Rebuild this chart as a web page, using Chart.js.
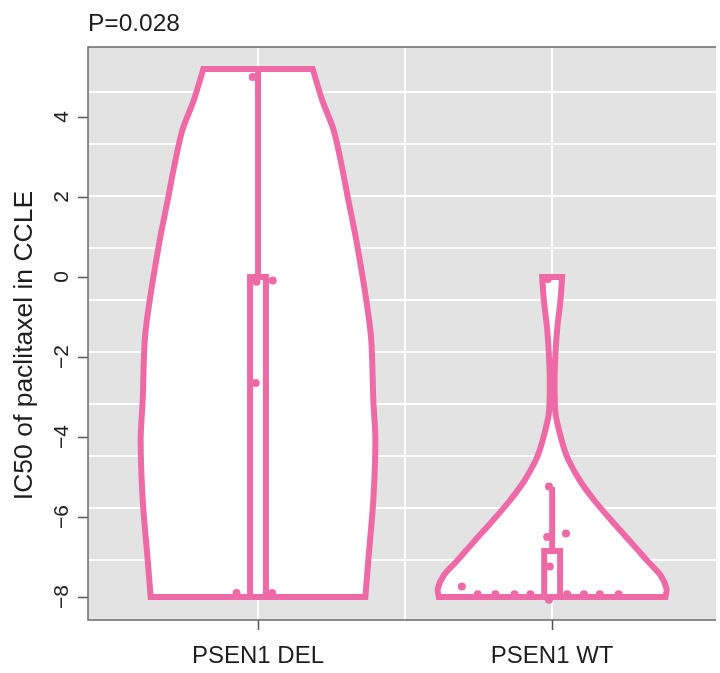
<!DOCTYPE html>
<html>
<head>
<meta charset="utf-8">
<script src="https://cdn.jsdelivr.net/npm/chart.js@4/dist/chart.umd.min.js"></script>
<style>
  html, body { margin: 0; padding: 0; background: #ffffff; overflow: hidden; }
  #wrap { width: 720px; height: 673px; }
</style>
</head>
<body>
<div id="wrap"><canvas id="c" width="720" height="673"></canvas></div>
<script>
// ---- data ----
const categories = ['PSEN1 DEL', 'PSEN1 WT'];
const yTickValues = [-8, -6, -4, -2, 0, 2, 4];
const pLabel = 'P=0.028';
const yTitle = 'IC50 of paclitaxel in CCLE';

// violin outlines: density half-width (category units) at each IC50 level
const delLevels     = [5.2, 4.425, 3.675, 2.8, 1.925, 0.925, -0.575, -1.575, -3.075, -4.075, -5.575, -7.075, -8.0];
const delHalfWidths = [0.186, 0.218, 0.257, 0.284, 0.307, 0.334, 0.368, 0.385, 0.392, 0.399, 0.392, 0.375, 0.365];
const wtLevels      = [0, -0.6, -1.3, -2.1, -2.6, -3.1, -3.45, -3.85, -4.3, -4.6, -5.1, -5.6, -6.1, -6.6, -7.1, -7.45, -7.8, -8.0];
const wtHalfWidths  = [0.034, 0.028, 0.017, 0.010, 0.008, 0.009, 0.012, 0.024, 0.041, 0.057, 0.095, 0.145, 0.203, 0.264, 0.324, 0.368, 0.389, 0.385];

// box plot summaries per group (DEL, WT)
const boxQ1        = [-8, -8];
const boxMedian    = [-8, -8];
const boxQ3        = [0, -6.85];
const whiskerHigh  = [5.2, -5.25];

// individual cell lines (value + horizontal jitter)
const delValues = [5.0, -0.09, -0.12, -2.65, -7.9, -7.9];
const delJitter = [-0.018, 0.05, -0.005, -0.008, -0.073, 0.048];
const wtValues  = [-0.05, -5.24, -6.41, -6.5, -7.24, -7.74, -7.93, -7.93, -7.93, -7.93, -8.07, -7.93, -7.93, -7.93, -7.93];
const wtJitter  = [-0.015, -0.011, 0.047, -0.017, -0.008, -0.307, -0.253, -0.193, -0.128, -0.074, -0.011, 0.051, 0.108, 0.162, 0.226];

// ---- styling ----
const PINK = '#EE6AA7';
const FONT = '"Liberation Sans", Arial, Helvetica, sans-serif';
const TEXT = '#1e1e1e';
const BOX_HALF = 0.027;

function fmtTick(v) { return v < 0 ? '\u2212' + Math.abs(v) : String(v); }

// closed outline starting/ending mid top edge; the trimmed ends' corner
// points are doubled so the spline keeps them sharp
function violinOutline(center, levels, widths) {
  const n = levels.length;
  const side = sign => levels.map((l, i) => ({ x: center + sign * widths[i], y: l }));
  const sharpen = pts => [pts[0], ...pts, pts[n - 1]];
  const left = sharpen(side(-1));
  const right = sharpen(side(1)).reverse();
  const topMid = { x: center, y: levels[0] };
  return [topMid, ...left, ...right, topMid];
}
function boxOutline(center, q1, q3) {
  return [
    { x: center, y: q3 },
    { x: center - BOX_HALF, y: q3 }, { x: center - BOX_HALF, y: q1 },
    { x: center + BOX_HALF, y: q1 }, { x: center + BOX_HALF, y: q3 },
    { x: center, y: q3 }
  ];
}
function jittered(center, values, jitter) {
  return values.map((v, i) => ({ x: center + jitter[i], y: v }));
}

const shapeStyle = (order, width, tension) => ({
  showLine: true, fill: 'shape', backgroundColor: '#ffffff',
  borderColor: PINK, borderWidth: width, borderJoinStyle: 'miter',
  pointRadius: 0, tension, order, xAxisID: 'x', yAxisID: 'y'
});
const lineStyle = (order, width) => ({
  showLine: true, fill: false, borderColor: PINK, borderWidth: width,
  borderCapStyle: 'butt', pointRadius: 0, tension: 0, order, xAxisID: 'x', yAxisID: 'y'
});

const datasets = [];
const violinData = [[delLevels, delHalfWidths], [wtLevels, wtHalfWidths]];
categories.forEach((cat, i) => {
  const c = i + 1;
  datasets.push({ label: cat + ' violin', data: violinOutline(c, violinData[i][0], violinData[i][1]), ...shapeStyle(4, 6, 0.3) });
  datasets.push({ label: cat + ' whisker', data: [{ x: c, y: boxQ3[i] }, { x: c, y: whiskerHigh[i] }], ...lineStyle(3, 6) });
  datasets.push({ label: cat + ' box', data: boxOutline(c, boxQ1[i], boxQ3[i]), ...shapeStyle(2, 6, 0) });
  datasets.push({ label: cat + ' median', data: [{ x: c - BOX_HALF, y: boxMedian[i] }, { x: c + BOX_HALF, y: boxMedian[i] }], ...lineStyle(2, 6) });
});
datasets.push({ label: 'DEL points', data: jittered(1, delValues, delJitter), showLine: false,
  pointRadius: 4, pointBackgroundColor: PINK, pointBorderWidth: 0, order: 0, xAxisID: 'x', yAxisID: 'y' });
datasets.push({ label: 'WT points', data: jittered(2, wtValues, wtJitter), showLine: false,
  pointRadius: 4, pointBackgroundColor: PINK, pointBorderWidth: 0, order: 0, xAxisID: 'x', yAxisID: 'y' });

// grey panel, frame, rotated y labels, title text
const panelPlugin = {
  id: 'panel',
  beforeDraw(chart) {
    const { ctx, chartArea: a } = chart;
    ctx.save();
    ctx.fillStyle = '#E3E3E3';
    ctx.fillRect(a.left, a.top, a.right - a.left, a.bottom - a.top);
    ctx.restore();
  },
  afterDraw(chart) {
    const { ctx, chartArea: a, scales } = chart;
    ctx.save();
    ctx.strokeStyle = '#6a6a6a';
    ctx.lineWidth = 1.5;
    ctx.beginPath();
    ctx.moveTo(a.right, a.top);
    ctx.lineTo(a.left, a.top);
    ctx.lineTo(a.left, a.bottom);
    ctx.lineTo(a.right, a.bottom);
    ctx.stroke();

    ctx.fillStyle = TEXT;
    ctx.textAlign = 'center';
    ctx.textBaseline = 'alphabetic';
    ctx.font = '21px ' + FONT;
    yTickValues.forEach(v => {
      const py = scales.y.getPixelForValue(v);
      ctx.save();
      ctx.translate(a.left - 20, py);
      ctx.rotate(-Math.PI / 2);
      ctx.fillText(fmtTick(v), 0, 0);
      ctx.restore();
    });

    ctx.font = '26.5px ' + FONT;
    ctx.save();
    ctx.translate(32, (a.top + a.bottom) / 2 + 12);
    ctx.rotate(-Math.PI / 2);
    ctx.fillText(yTitle, 0, 0);
    ctx.restore();

    ctx.textAlign = 'left';
    ctx.font = '24.5px ' + FONT;
    ctx.fillText(pLabel, a.left, 30.5);
    ctx.restore();
  }
};

const X_MIN = 0.422, X_MAX = 2.557;
const Y_MIN = -8.575, Y_MAX = 5.75;

new Chart(document.getElementById('c'), {
  type: 'scatter',
  data: { datasets },
  options: {
    responsive: false,
    animation: false,
    events: [],
    layout: { padding: { top: 47, left: 0, right: 0, bottom: 0 } },
    plugins: { legend: { display: false }, tooltip: { enabled: false } },
    scales: {
      x: {
        type: 'linear', position: 'bottom', min: X_MIN, max: X_MAX,
        afterBuildTicks: s => { s.ticks = categories.map((c, i) => ({ value: i + 1 })); },
        ticks: {
          callback: v => categories[Math.round(v) - 1] || '',
          font: { family: FONT, size: 24 }, color: TEXT, padding: 12,
          autoSkip: false, maxRotation: 0, minRotation: 0
        },
        grid: { drawOnChartArea: false, drawTicks: true, tickLength: 10, tickColor: '#555555', tickWidth: 1.5 },
        border: { display: false },
        afterFit: s => { s.height = 53; }
      },
      xg: {
        type: 'linear', position: 'top', min: X_MIN, max: X_MAX,
        afterBuildTicks: s => {
          const v = [];
          categories.forEach((c, i) => { v.push(i + 1); if (i < categories.length - 1) v.push(i + 1.5); });
          s.ticks = v.map(value => ({ value }));
        },
        ticks: { display: false },
        grid: { color: '#ffffff', lineWidth: 2, drawTicks: false },
        border: { display: false },
        afterFit: s => { s.height = 0; }
      },
      y: {
        type: 'linear', position: 'left', min: Y_MIN, max: Y_MAX,
        afterBuildTicks: s => { s.ticks = yTickValues.map(value => ({ value })); },
        ticks: { display: false },
        grid: { drawOnChartArea: false, drawTicks: true, tickLength: 10, tickColor: '#555555', tickWidth: 1.5 },
        border: { display: false },
        afterFit: s => { s.width = 88; }
      },
      yg: {
        type: 'linear', position: 'right', min: -0.154, max: 10.865,
        afterBuildTicks: s => { s.ticks = [1, 2, 3, 4, 5, 6, 7, 8, 9, 10].map(value => ({ value })); },
        ticks: { display: false },
        grid: { color: '#ffffff', lineWidth: 2, drawTicks: false },
        border: { display: false },
        afterFit: s => { s.width = 0; }
      }
    }
  },
  plugins: [panelPlugin]
});
</script>
</body>
</html>
